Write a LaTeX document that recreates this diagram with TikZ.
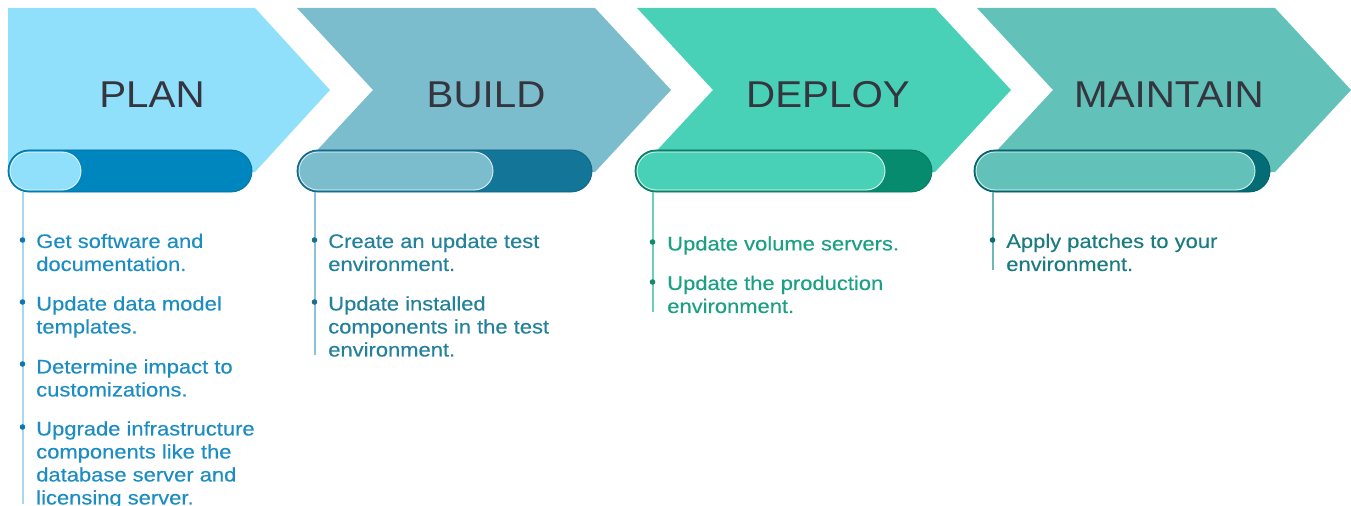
\documentclass[tikz,border=0pt]{standalone}
\usepackage{fontspec}
\setmainfont{Liberation Sans}
\newfontfamily\titlefont[FakeStretch=1.08]{Liberation Sans}
\newfontfamily\itemfont[FakeStretch=1.12, FakeBold=0.3]{Liberation Sans}

% stage palettes
\definecolor{planL}{HTML}{90E0FC}
\definecolor{planD}{HTML}{0086BE}
\definecolor{planT}{HTML}{1C8DC3}
\definecolor{planB}{HTML}{0E78AE}
\definecolor{planV}{HTML}{A6D8EE}
\definecolor{buildL}{HTML}{7BBCCD}
\definecolor{buildD}{HTML}{137598}
\definecolor{buildT}{HTML}{23819C}
\definecolor{buildB}{HTML}{1B6F8A}
\definecolor{buildV}{HTML}{8CC3D2}
\definecolor{deployL}{HTML}{48D1B7}
\definecolor{deployD}{HTML}{078B6E}
\definecolor{deployT}{HTML}{1BA084}
\definecolor{deployB}{HTML}{0E8B6E}
\definecolor{deployV}{HTML}{6CCFB9}
\definecolor{maintL}{HTML}{62C1B8}
\definecolor{maintD}{HTML}{046C74}
\definecolor{maintT}{HTML}{1B7C80}
\definecolor{maintB}{HTML}{0B6A70}
\definecolor{maintV}{HTML}{6DB9B7}
\definecolor{titlegray}{HTML}{35353F}

\tikzset{
  stagetitle/.style={anchor=base, inner sep=0pt, text=titlegray,
    font=\titlefont\fontsize{28}{32}\selectfont},
  stageitem/.style={anchor=north west, inner sep=0pt, align=left,
    font=\itemfont\fontsize{14.7}{17.25}\selectfont},
  barouter/.style={rounded corners=15.75pt, line width=0.6pt},
  barinner/.style={rounded corners=14.25pt, draw=white, draw opacity=0.55, line width=0.6pt},
  dot/.style={circle, inner sep=0pt, minimum size=4.2pt},
  stem/.style={line width=1.2pt},
}

\begin{document}
\begin{tikzpicture}[x=0.75pt, y=-0.75pt]
\useasboundingbox (0,0) rectangle (1351,506);

% chevrons
\fill[planL]   (8,8) -- (255,8) -- (330,90) -- (255,172) -- (8,172) -- cycle;
\fill[buildL]  (297,8) -- (595,8) -- (671,90) -- (595,172) -- (297,172) -- (373,90) -- cycle;
\fill[deployL] (637,8) -- (935,8) -- (1011,90) -- (935,172) -- (637,172) -- (713,90) -- cycle;
\fill[maintL]  (977,8) -- (1275,8) -- (1351,90) -- (1275,172) -- (977,172) -- (1053,90) -- cycle;

% titles
\node[stagetitle] (tplan)   at (152,108) {PLAN};
\node[stagetitle] (tbuild)  at (486,108) {BUILD};
\node[stagetitle] (tdeploy) at (828,108) {DEPLOY};
\node[stagetitle] (tmaint)  at (1169,108) {MAINTAIN};

% progress bars
\draw[barouter, fill=planD, draw=planD!85!black] (8,150) rectangle (252,192);
\fill[barinner, fill=planL] (10,152) rectangle (81,190);
\draw[barouter, fill=buildD, draw=buildD!85!black] (297,150) rectangle (592,192);
\fill[barinner, fill=buildL] (299,152) rectangle (493,190);
\draw[barouter, fill=deployD, draw=deployD!85!black] (635,150) rectangle (932,192);
\fill[barinner, fill=deployL] (637,152) rectangle (885,190);
\draw[barouter, fill=maintD, draw=maintD!85!black] (974,150) rectangle (1270,192);
\fill[barinner, fill=maintL] (976,152) rectangle (1255,190);
\draw[barinner] (10,152) rectangle (81,190);
\draw[barinner] (299,152) rectangle (493,190);
\draw[barinner] (637,152) rectangle (885,190);
\draw[barinner] (976,152) rectangle (1255,190);

% stems below the bars
\coordinate (splanA) at (23,192);   \coordinate (splanB) at (23,504);
\coordinate (sbuildA) at (315,192); \coordinate (sbuildB) at (315,355);
\coordinate (sdeployA) at (653,192);\coordinate (sdeployB) at (653,312);
\coordinate (smaintA) at (993,192); \coordinate (smaintB) at (993,270);
\draw[stem, planV]   (splanA) -- (splanB);
\draw[stem, buildV]  (sbuildA) -- (sbuildB);
\draw[stem, deployV] (sdeployA) -- (sdeployB);
\draw[stem, maintV]  (smaintA) -- (smaintB);

% PLAN items
\node[dot, fill=planB] (bp1) at (22.5,240) {};
\node[dot, fill=planB] (bp2) at (22.5,302) {};
\node[dot, fill=planB] (bp3) at (22.5,364) {};
\node[dot, fill=planB] (bp4) at (22.5,427) {};
\node[stageitem, text=planT] (ip1) at (36,233.5) {Get software and\\documentation.};
\node[stageitem, text=planT] (ip2) at (36,296) {Update data model\\templates.};
\node[stageitem, text=planT] (ip3) at (36,359) {Determine impact to\\customizations.};
\node[stageitem, text=planT] (ip4) at (36,421) {Upgrade infrastructure\\components like the\\database server and\\licensing server.};

% BUILD items
\node[dot, fill=buildB] (bb1) at (314.5,240) {};
\node[dot, fill=buildB] (bb2) at (314.5,302) {};
\node[stageitem, text=buildT] (ib1) at (328,233.5) {Create an update test\\environment.};
\node[stageitem, text=buildT] (ib2) at (328,296) {Update installed\\components in the test\\environment.};

% DEPLOY items
\node[dot, fill=deployB] (bd1) at (652.5,242) {};
\node[dot, fill=deployB] (bd2) at (652.5,282) {};
\node[stageitem, text=deployT] (id1) at (667,236) {Update volume servers.};
\node[stageitem, text=deployT] (id2) at (667,275.5) {Update the production\\environment.};

% MAINTAIN items
\node[dot, fill=maintB] (bm1) at (992.5,240) {};
\node[stageitem, text=maintT] (im1) at (1006,233.5) {Apply patches to your\\environment.};
\end{tikzpicture}
\end{document}
